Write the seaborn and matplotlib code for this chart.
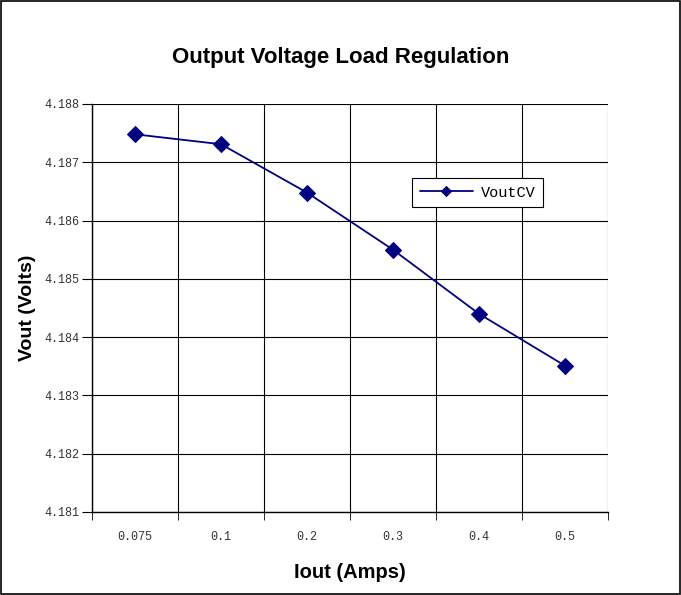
import matplotlib
matplotlib.use("Agg")
import matplotlib.pyplot as plt
import seaborn as sns
import pandas as pd
from matplotlib.patches import Rectangle
from matplotlib.ticker import FixedLocator, FormatStrFormatter

# data
iout = ["0.075", "0.1", "0.2", "0.3", "0.4", "0.5"]
vout_cv = [4.18748, 4.18731, 4.18648, 4.18550, 4.18440, 4.18351]

df = pd.DataFrame({"Iout": iout, "VoutCV": vout_cv})

sns.set_style("white")
plt.rcParams["font.family"] = ["Liberation Sans", "DejaVu Sans"]
plt.rcParams["text.color"] = "black"
plt.rcParams["axes.labelcolor"] = "black"

fig = plt.figure(figsize=(6.81, 5.95), dpi=100)
ax = fig.add_axes([92 / 681, 1 - 512 / 595, 516 / 681, 408 / 595])

sns.lineplot(data=df, x="Iout", y="VoutCV", sort=False, color="#000080",
             marker="D", markersize=8, markeredgecolor="#000080",
             linewidth=1.3, label="VoutCV", ax=ax)

ax.set_xlim(-0.5, 5.5)
ax.set_ylim(4.181, 4.188)
ax.set_yticks([4.181 + 0.001 * i for i in range(8)])
ax.yaxis.set_major_formatter(FormatStrFormatter("%.3f"))

# category labels in the middle, ticks/grid on the boundaries
ax.set_xticks(range(len(iout)))
ax.set_xticklabels(iout)
ax.xaxis.set_minor_locator(FixedLocator([i - 0.5 for i in range(len(iout) + 1)]))
ax.tick_params(axis="x", which="major", length=0, pad=14)
ax.tick_params(axis="x", which="minor", length=6, direction="out", color="black", bottom=True)
ax.tick_params(axis="y", length=7, direction="out", color="black", left=True, pad=2)
for lab in ax.get_xticklabels() + ax.get_yticklabels():
    lab.set_fontfamily("Liberation Mono")
    lab.set_fontsize(8.5)
    lab.set_color("#333333")

ax.grid(False)
ax.grid(True, axis="y", which="major", color="black", linewidth=0.8)
ax.grid(True, axis="x", which="minor", color="black", linewidth=0.8)
ax.set_axisbelow(True)

for s in ["top", "right"]:
    ax.spines[s].set_visible(False)
for s in ["left", "bottom"]:
    ax.spines[s].set_color("black")
    ax.spines[s].set_linewidth(1.0)

ax.set_xlabel("Iout (Amps)", fontsize=14.5, fontweight="bold", labelpad=14)
ax.set_ylabel("Vout (Volts)", fontsize=14, fontweight="bold", labelpad=6)
fig.text(0.5, 1 - 58 / 595, "Output Voltage Load Regulation", ha="center", va="center",
         fontsize=16, fontweight="bold")

leg = ax.legend(loc="upper left", bbox_to_anchor=((412 - 92) / 516, (512 - 178) / 408),
                borderaxespad=0, frameon=True, fancybox=False, edgecolor="black",
                framealpha=1, prop={"family": "Liberation Mono", "size": 11},
                markerscale=0.7, handlelength=3.5, handletextpad=0.5, borderpad=0.5)
leg.get_frame().set_linewidth(0.8)

fig.patches.append(Rectangle((0.002, 0.002), 0.996, 0.996, transform=fig.transFigure,
                             fill=False, edgecolor="black", linewidth=1.2))

fig.savefig("out.png", dpi=100)
